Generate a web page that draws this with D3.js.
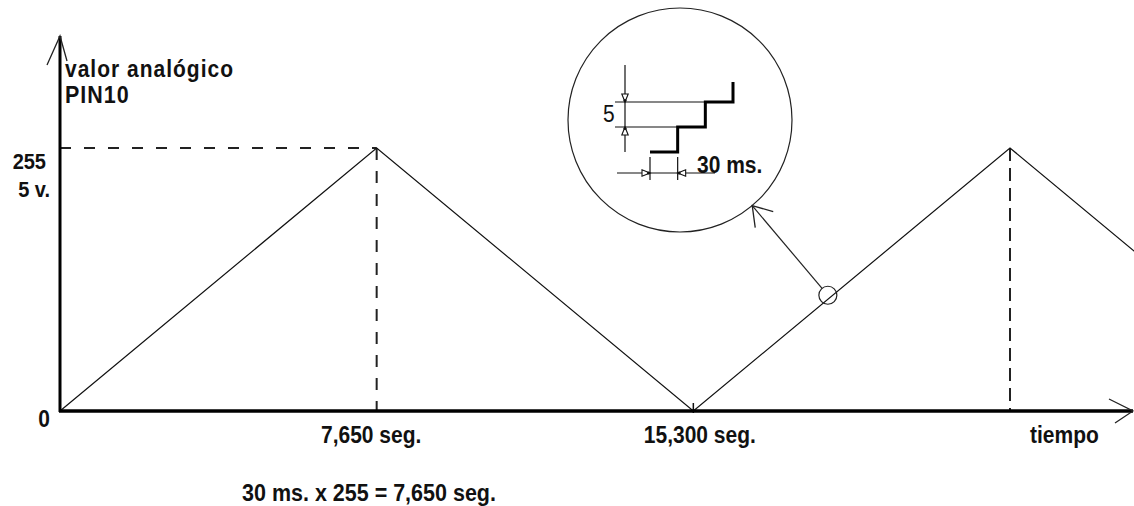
<!DOCTYPE html>
<html>
<head>
<meta charset="utf-8">
<script src="https://cdn.jsdelivr.net/npm/d3@7"></script>
<style>
  html, body { margin: 0; padding: 0; background: #fff; }
  svg { display: block; }
  text { font-family: "Liberation Sans", Arial, sans-serif; fill: #111; }
</style>
</head>
<body>
<script>
// Triangle wave on PIN10: value rises 0 -> 255 and back, one step of 5 every 30 ms
const times = [0, 7.65, 15.3, 22.95, 30.6];          // seconds
const pinValues = [0, 255, 0, 255, 0];               // analog value
const timeTicks = [7.65, 15.3];
const timeTickLabels = ["7,650 seg.", "15,300 seg."];
const valueTicks = [0, 255];
const valueTickLabels = ["0", "255"];
const peakTimes = [7.65, 22.95];
const zoomTime = 18.55;                               // spot on the ramp shown enlarged

// Enlarged staircase detail
const stepTimes = [0, 30, 30, 60, 60, 90, 90];       // ms
const stepValues = [0, 0, 5, 5, 10, 10, 14];

const W = 1134, H = 506;
const svg = d3.select("body").append("svg").attr("width", W).attr("height", H);

const x = d3.scaleLinear().domain([0, 22.95]).range([60, 1010]);
const y = d3.scaleLinear().domain([0, 255]).range([411, 148]);

// text helper with a slightly tall bitmap-like look
function label(g, px, py, str, opts = {}) {
  const size = opts.size || 21, sy = opts.sy || 1.1;
  const t = g.append("text")
    .attr("transform", `translate(${px},${py}) scale(1,${sy})`)
    .attr("font-size", size)
    .attr("font-weight", opts.weight || "bold")
    .attr("text-anchor", opts.anchor || "start")
    .text(str);
  if (opts.ls) t.attr("letter-spacing", opts.ls);
  return t;
}

// dashed guides
svg.append("line")
  .attr("x1", x(0)).attr("x2", x(peakTimes[0]))
  .attr("y1", y(255)).attr("y2", y(255))
  .attr("stroke", "#222").attr("stroke-width", 2).attr("stroke-dasharray", "11,13");
svg.selectAll("line.vguide").data(peakTimes).join("line")
  .attr("class", "vguide")
  .attr("x1", d => x(d)).attr("x2", d => x(d))
  .attr("y1", y(255)).attr("y2", y(0))
  .attr("stroke", "#222").attr("stroke-width", 2)
  .attr("stroke-dasharray", (d, i) => i === 0 ? "12,11" : "13,7");

// triangle wave
const wave = d3.line().x((d, i) => x(times[i])).y(d => y(d));
svg.append("path")
  .attr("d", wave(pinValues))
  .attr("fill", "none").attr("stroke", "#111").attr("stroke-width", 1.2);

// small mark at the trough
svg.append("line").attr("x1", x(15.3)).attr("x2", x(15.3))
  .attr("y1", y(0) - 8).attr("y2", y(0) + 2).attr("stroke", "#111").attr("stroke-width", 1.5);

// axes
svg.append("line").attr("x1", x(0)).attr("x2", x(0)).attr("y1", y(0) + 1).attr("y2", 36)
  .attr("stroke", "#000").attr("stroke-width", 3);
svg.append("line").attr("x1", x(0) - 1).attr("x2", 1133).attr("y1", y(0)).attr("y2", y(0))
  .attr("stroke", "#000").attr("stroke-width", 3.5);
// arrow heads of the axes
svg.append("path").attr("d", `M47,65 L${x(0)},36 L67,61`)
  .attr("fill", "none").attr("stroke", "#222").attr("stroke-width", 1.3);
svg.append("path").attr("d", `M1109,399 L1133,${y(0)} L1115,423`)
  .attr("fill", "none").attr("stroke", "#222").attr("stroke-width", 1.3);

// axis labels
const xAxis = d3.axisBottom(x).tickValues(timeTicks).tickSize(0)
  .tickFormat((d, i) => timeTickLabels[i]);
const gx = svg.append("g").attr("transform", `translate(0,${y(0)})`).call(xAxis);
gx.select(".domain").remove();
gx.selectAll(".tick text").each(function(d, i) {
  const g = d3.select(this.parentNode);
  d3.select(this).remove();
  label(g, i === 0 ? -6 : 6, 32, timeTickLabels[i], { anchor: "middle" });
});

label(svg, 50, y(0) + 16, valueTickLabels[0], { anchor: "end" });
label(svg, 46, y(valueTicks[1]) + 21, valueTickLabels[1], { anchor: "end", size: 20 });
label(svg, 50, y(valueTicks[1]) + 49, "5 v.", { anchor: "end", size: 20 });

label(svg, 65, 77, "valor analógico", { size: 21, ls: 1 });
label(svg, 65, 103, "PIN10", { size: 21.5, ls: 1 });
label(svg, 1030, 443, "tiempo", { size: 21 });
label(svg, 242, 501, "30 ms. x 255 = 7,650 seg.", { size: 21.5 });

// ---- magnified detail ----
const cx = 680, cy = 120, r = 112;
svg.append("circle").attr("cx", cx).attr("cy", cy).attr("r", r)
  .attr("fill", "none").attr("stroke", "#222").attr("stroke-width", 1.2);

const zx = x(zoomTime), zy = y(255 * (zoomTime - 15.3) / 7.65) - 4;
svg.append("circle").attr("cx", zx).attr("cy", zy).attr("r", 9)
  .attr("fill", "none").attr("stroke", "#222").attr("stroke-width", 1.2);

// pointer from the small circle to the magnifier
const ang = Math.atan2(zy - cy, zx - cx);
const tipX = cx + r * Math.cos(ang), tipY = cy + r * Math.sin(ang);
const startX = zx - 9 * Math.cos(ang), startY = zy - 9 * Math.sin(ang);
svg.append("line").attr("x1", startX).attr("y1", startY).attr("x2", tipX).attr("y2", tipY)
  .attr("stroke", "#222").attr("stroke-width", 1.2);
svg.append("path").attr("d", `M${tipX + 21},${tipY + 6} L${tipX},${tipY} L${tipX + 3},${tipY + 22}`)
  .attr("fill", "none").attr("stroke", "#222").attr("stroke-width", 1.3);

const ix = d3.scaleLinear().domain([0, 90]).range([650, 733]);
const iy = d3.scaleLinear().domain([0, 10]).range([152, 102]);

// reference lines of the staircase
const thin = { stroke: "#111", "stroke-width": 1.2 };
function tline(x1, y1, x2, y2) {
  const l = svg.append("line").attr("x1", x1).attr("y1", y1).attr("x2", x2).attr("y2", y2);
  Object.entries(thin).forEach(([k, v]) => l.attr(k, v));
  return l;
}
tline(625, 65, 625, 152);
tline(615, iy(10), ix(60), iy(10));
tline(615, iy(5), ix(30), iy(5));
tline(617, 173, 715, 173);
tline(ix(0), 157, ix(0), 180);
tline(ix(30), 157, ix(30), 180);

// staircase
const stairs = d3.line().x((d, i) => ix(stepTimes[i])).y(d => iy(d));
svg.append("path").attr("d", stairs(stepValues))
  .attr("fill", "none").attr("stroke", "#000").attr("stroke-width", 3);

// dimension arrowheads
function arrowHead(tx, ty, dx, dy) {
  // open triangle with its tip at (tx,ty), pointing along (dx,dy)
  const len = 8, hw = 3.2;
  const bx = tx - dx * len, by = ty - dy * len;
  const px = -dy * hw, py = dx * hw;
  svg.append("path")
    .attr("d", `M${tx},${ty} L${bx + px},${by + py} L${bx - px},${by - py} Z`)
    .attr("fill", "#fff").attr("stroke", "#111").attr("stroke-width", 1.1);
  svg.append("circle").attr("cx", tx - dx * 1.5).attr("cy", ty - dy * 1.5).attr("r", 1.6).attr("fill", "#111");
}
arrowHead(625, iy(10), 0, 1);
arrowHead(625, iy(5), 0, -1);
arrowHead(ix(0), 173, 1, 0);
arrowHead(ix(30), 173, -1, 0);

label(svg, 603, 122, "5", { weight: "normal", size: 21, sy: 1.15 });
label(svg, 697, 173, "30 ms.", { size: 21, sy: 1.18 });
</script>
</body>
</html>
